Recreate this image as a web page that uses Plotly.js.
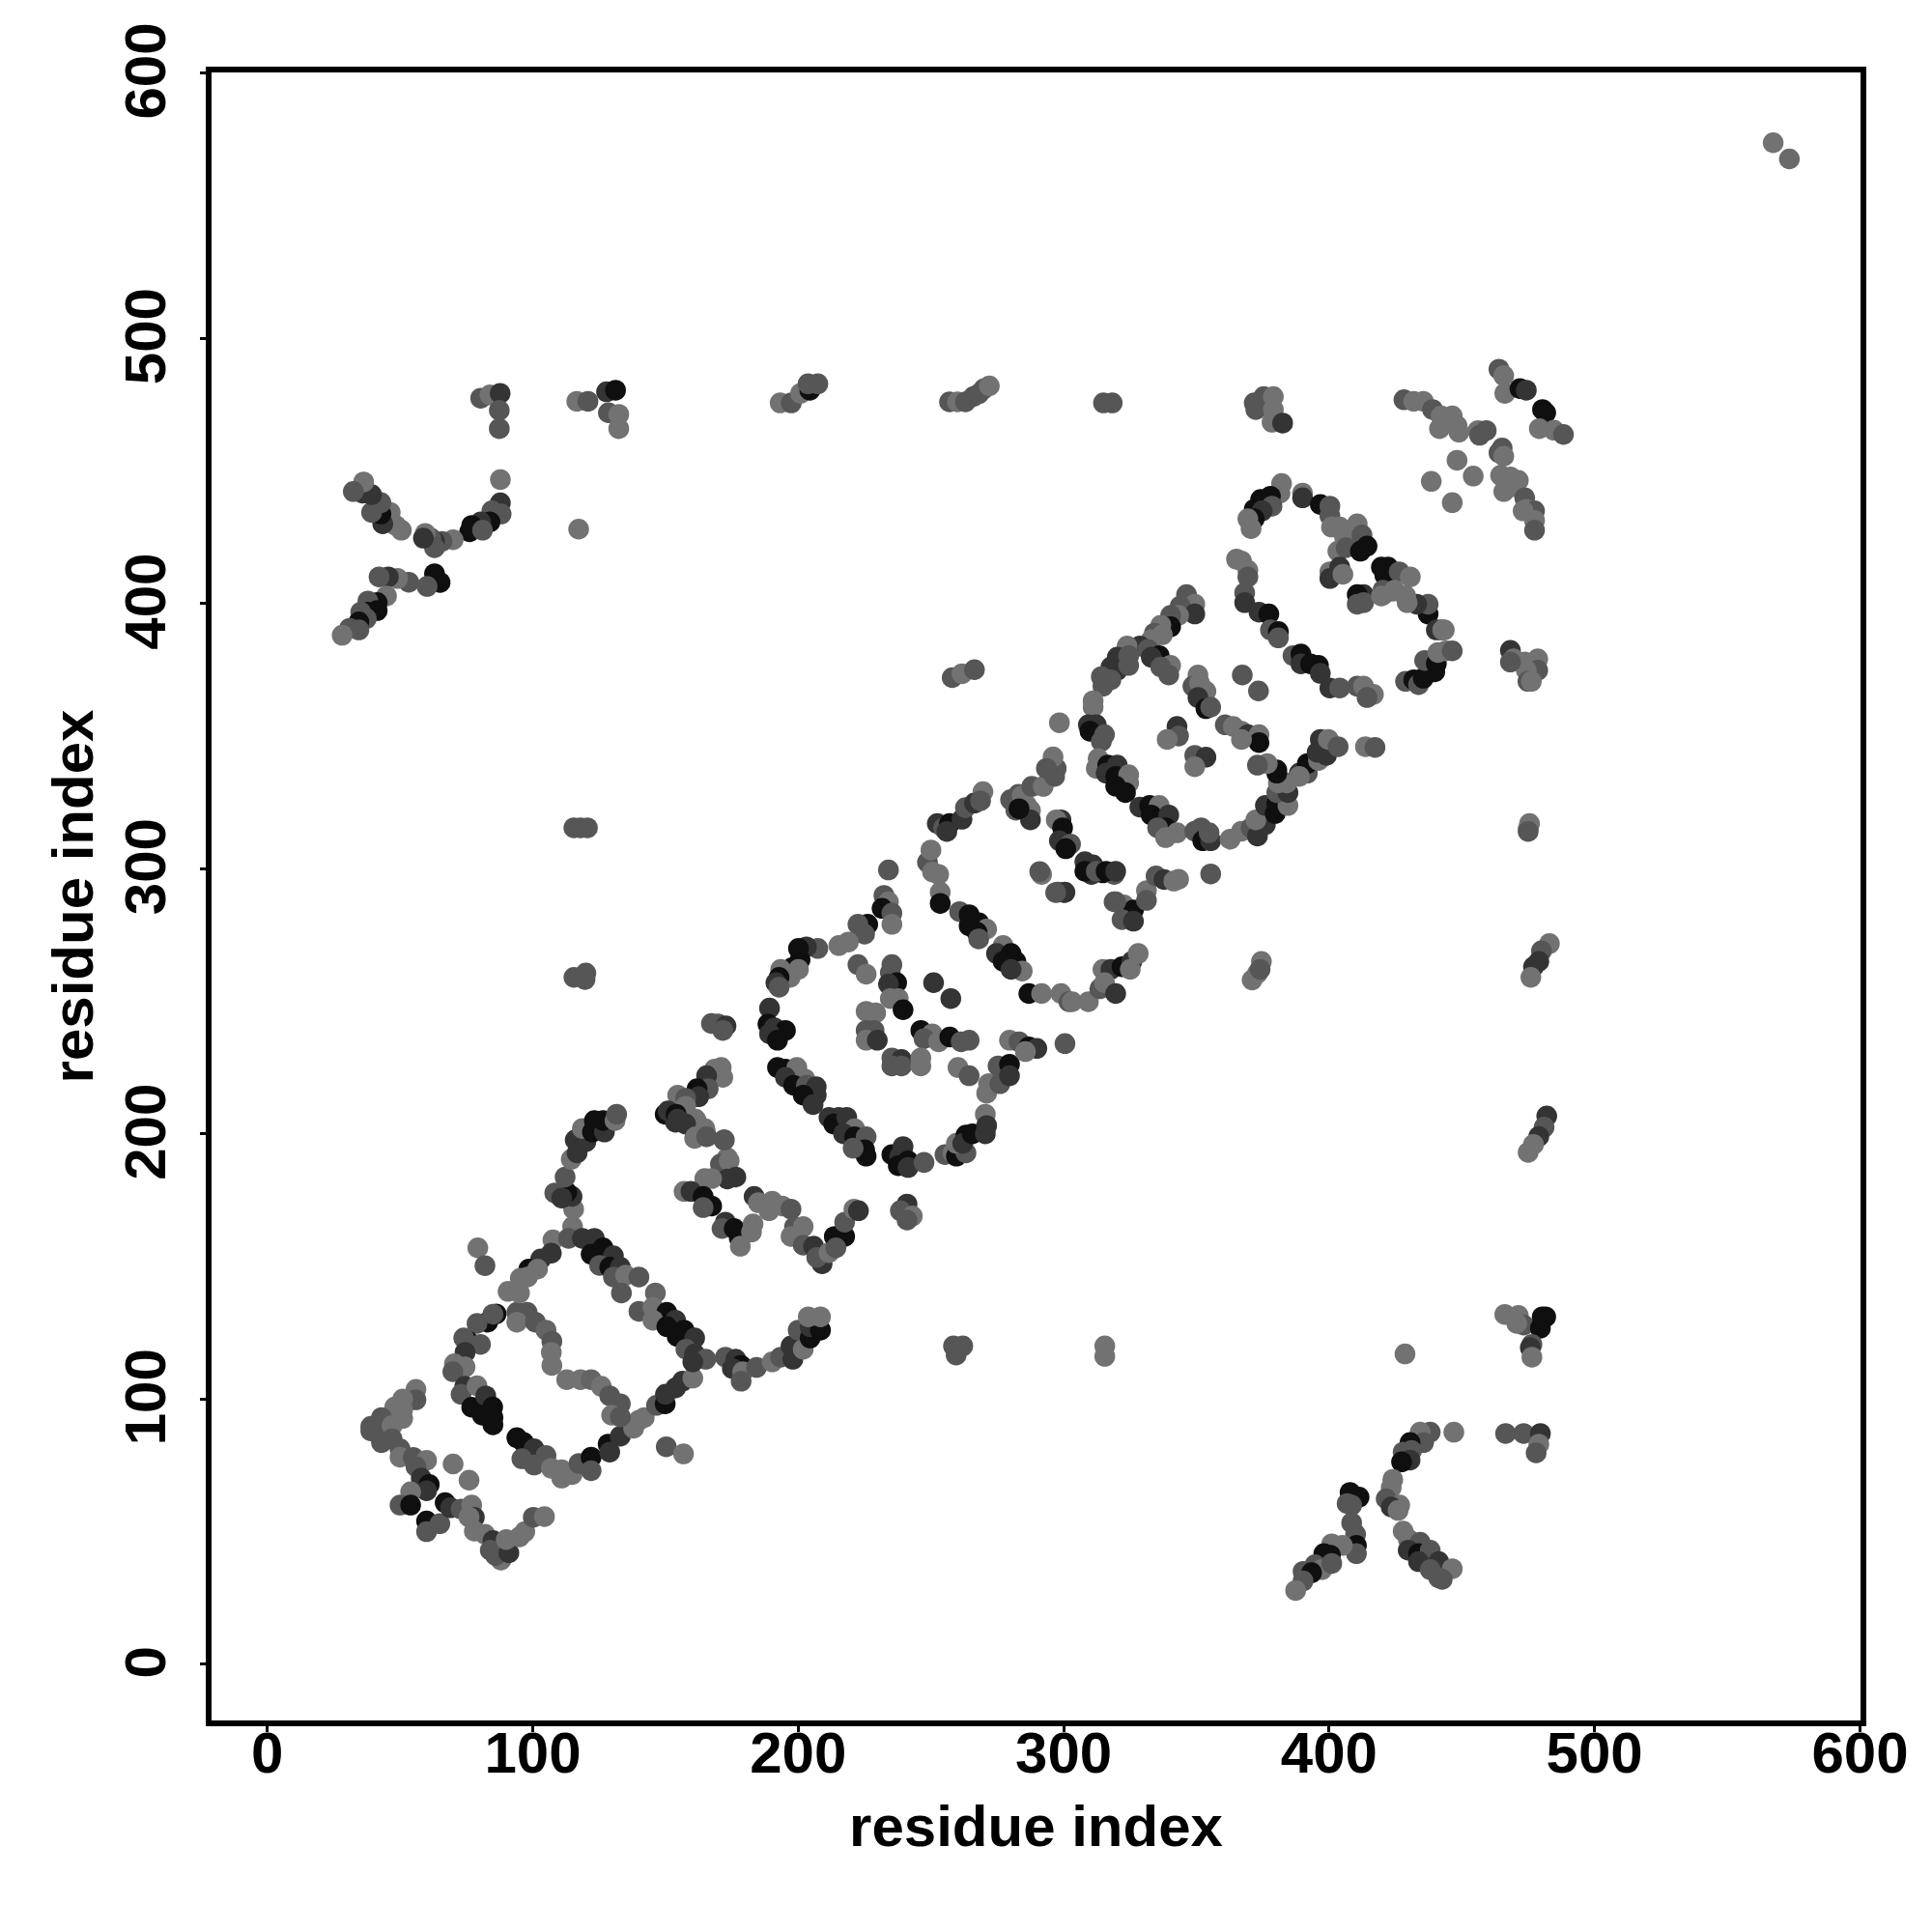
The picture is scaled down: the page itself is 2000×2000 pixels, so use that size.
<!DOCTYPE html>
<html><head><meta charset="utf-8">
<script src="https://cdn.plot.ly/plotly-3.0.0.min.js"></script>
<style>html,body{margin:0;padding:0;background:#fff}</style></head>
<body><div id="chart" style="width:2000px;height:2000px"></div>
<script>
// each contact: [residue i, residue j, strength 1 (weak) .. 4 (strong)]
const helixA = [[56,103.6,1],[56,99.7,2],[51,100,1],[48,97,1],[51,96,1],[51,92.7,1],[43,93,2],[39,89.7,2],[44,89,2],[47,90,1],[39,88,2],[43,83.6,2],[47,85,2],[50,81.2,2],[50,78.1,1],[55,78,2],[60,76.9,1],[56,74.5,2],[58,70.2,3],[61,67.8,4],[60,65.4,3],[70,75.5,1],[76,69.4,1],[54,65,1],[50,60,2],[54,60,4],[60,54,4],[60,50,2],[65,53,2],[67,60.9,4],[69,59,3],[73,58.5,2],[77,60,1],[78,55.4,3],[76,55.5,1],[78,50.2,1],[82,49,1],[85,46.6,3],[84,43,2],[88,39.3,1],[86,41,2],[91,42,3],[90,47,1],[95,48,1],[97,50,1],[100.2,55.4,2],[104.4,55.7,1]];
const boxA = [[86.2,132.1,4],[83,129,4],[85,132,2],[79,128.5,2],[75.7,121.8,4],[80.3,120.6,2],[74,123,2],[74.5,117.6,3],[70.5,113.3,1],[74.5,112.1,1],[69.9,110.3,2],[74.4,104.8,3],[73,101.8,2],[79,105,1],[77,96.9,4],[82.3,101.2,3],[84.9,97,4],[81,93.9,4],[85,93,4],[85,90.3,4],[94,85.4,4],[96.6,83.6,4],[100.5,81.2,3],[95.9,77.5,2],[100.5,75.1,2],[105,78.7,2],[107,73.9,1],[110.9,73.3,1],[114.8,71.5,1],[110.9,70.2,1],[117.4,75.7,2],[122,78.1,4],[122,73,2],[128.4,83,4],[129,80,3],[133,86,3],[140,92,1],[138,89,1],[142,93,1],[146.6,97.6,2],[149.9,98.2,4],[150,101.8,3],[153.8,104.2,3],[156.4,106.7,3],[160.3,107.9,1],
[94,132.7,2],[97.9,132.7,2],[94,129,1],[101,129,2],[105,126,1.5],[107.2,121.8,2],[107,117.6,1],[107.2,112.7,1],[112.8,107.3,1],[118,107.3,1],[122,107.3,1.5],[125.8,104.8,1],[129,101.2,2],[133,98.2,2],[129.7,93.9,1],[133,93.3,2],
[107.6,160,1],[107,155,3],[103,152.8,3],[98.5,149,4],[101.8,149,1],[95.3,145.5,1],[98,146,1],[90.7,140.6,1],[95,140,1],
[115,165,1],[113.5,160.6,2],[118.7,160.6,3],[123.2,160.6,3],[122,154.6,4],[126.5,157,4],[130.4,154,3],[125.2,150.4,2],[129,149.7,4],[133,149.7,3],[130.4,146,2],[135,146.7,1],[140,146,2],[133.4,140,2],
[146.2,140,1.5],[140,133.1,2],[145.3,134.6,1],[150.5,132.7,4],[145.3,129.7,1],[153.8,129.7,3],[150.5,127.3,4],[157,126,4],[154.4,123.6,4],[161,123,3],[157.7,118.8,2],[161,117,3],[165.2,115,2],[160.3,114,3],
[79.3,157,1],[82,150.3,2],[150.3,82,2],[156.8,79.3,1]];
const armB = [[172.6,115.8,2],[176.5,115,3],[178.5,112.7,4],[175.2,111.5,3],[179.1,110.3,1],[178.5,106.7,2],[184.3,111.9,2],[190.2,114,1],[193.4,115.8,2],[198,115,3],[197.3,120,3],[201.9,118.8,1],[200,126,2],[204.5,123,4],[204.5,127.3,3],[208.4,126,4],[203.8,131,1],[208.4,131,1],
[115.4,171.6,1],[114.8,176.4,3],[112.8,178,4],[108.3,177.7,2],[110.9,175.8,3],[112.2,183.7,2],[114.5,190.4,1],[116.7,192.8,3],[116,197.7,3],[120,197,3],[118.7,202,1],[122.5,200.7,4],[123.2,205,4],[127,200.7,3],[126.5,205,4],[131,205,1],[131.6,207.4,2],
[149.9,207.4,4],[153.8,204.4,3],[157.7,205,2],[161.6,205,1],[164.8,202,1],[161,198.3,1],[165.5,199,2],[172,197.7,2],[173.3,191,1],[170.7,188.6,2],[174,189.8,1],[176.5,183.7,3],[173.3,183,3],
[164.8,183.1,1],[167.4,183.1,1],[157,178.3,1],[159.6,178.3,3],[164.2,176.4,4],[167.4,172.8,4],[164.2,172.2,2],[172.6,166.7,3],[171.3,164.3,2],[175.9,164.3,4],[177.8,160.7,4],[178.2,157.6,1],[183,166,1],[182.4,163,1],
[183.4,176.4,3],[185,174,1],[190.2,174.6,1],[194,172.8,1],[189,171,1],[197.3,171.6,2],[198.6,164.9,2],[201.9,165,1],[197.3,161.3,1],[201.9,158,2],[205.8,157.6,3],[209,151,3],[207,153.4,2],[211.6,155.2,1],[213.6,161.3,4],[217.5,161.3,4],[214.2,157,2],[217.5,166.7,2],[221,171.6,1],[222.7,171,3],
[241,173.5,3],[238.5,171,2],[243,169,1],[241,167.5,2]];
const boxB = [[171.6,221.3,1],[171,225,1],[168.5,224.4,1],[165.5,221.9,3],[166.1,217,2],[161.9,217,4],[162.5,214,3],[154.6,214.6,1],[157.6,213.4,2],[157.6,210.4,1],[151,208.6,3],[154,207.4,4],[154.6,205.5,3],[161.3,205.5,1],[157.6,203.7,3],[164.9,201.3,1],[161.3,198.9,1],[165.5,198.9,2],[172.2,197.7,2],
[207.4,269.9,2],[203.1,270.5,3],[200.1,269.9,4],[200.7,265.6,4],[197.7,262.6,4],[200.1,262,1],[193.4,262,1],[197,259,1],[192.8,259,4],[191.6,257,3],[192.8,255.3,2],[189.2,247.4,3],[188.6,241.4,4],[191,240,3],[195.2,239,4],[189.2,237.7,3],[192.2,235.3,4],
[169.8,241.4,2],[167.3,241.6,2],[172.8,240.7,3],[171.6,239,2],
[192.2,225,4],[195.2,224.4,4],[199.5,225,1],[195.2,221.3,3],[202.5,220.7,1],[198.3,218.3,4],[203.1,218.3,2],[206.8,217.7,3],[206.8,214.6,3],[201.9,214.6,4],[205.6,211,3],
[211.6,206.2,3],[215.3,206.2,3],[213.4,203.7,4],[218.3,206.2,3],[221.3,201.9,1],[217.1,200,3],[221.3,198.9,4],[225.6,198.9,2],[225,194,4],[225.6,191.6,4],[220.7,194.6,2],
[235.3,192.2,4],[239.5,195.2,3],[238.3,191.6,3],[237.7,188,4],[241.4,189.8,4],[241.4,187.3,3],[247.4,189.2,2],
[255.3,192.2,2],[258.3,192.8,1],[259.6,191.6,4],[263.2,192.8,2],[259.6,196.4,1],[263.2,199.5,4],[262,196.4,3],[265.6,200,4],[270.5,207.4,1],[271,203.1,3],[270.5,200,3],
[271,215.3,1],[271.7,218.9,1],[276,218.9,2],[275.3,225.6,2],[279.6,226.2,4],[279.6,221.9,3],
[235.3,263.8,2],[234.7,260.8,2],[237.1,257,4],[234,256.5,3],[237.7,251,1],[234.7,251,1],[239.5,246.8,4],[229.2,245.6,1],[225.6,246.2,1],[222.5,263.8,2],[225.6,260.2,1],[251,257,3],[257.5,251,3],
[246.2,239,4],[250.5,237.7,1],[247.4,235.9,2],[252.9,234.7,1],[257.1,236.5,4],[261.4,234.7,2],[264.4,235.3,2],
[225.6,239,2],[228.6,239,2],[225.6,235.3,1],[229.8,235.3,3],[235.3,228.6,2],[238.9,228,3],[235.3,225.6,2],[238.9,225.6,2],[246.2,228.6,1],[246.2,225.6,1],[260.2,225,1],[264.4,221.9,2],
[279.6,235.3,1],[283.2,234.7,2],[286.9,232.8,4],[289.9,232.2,3],[285.6,231,1],[300.5,234,2],
[253.5,291.1,1],[253.5,286.9,4],[260.8,283.8,2],[264.4,282.6,4],[268,279.6,4],[264.4,278.4,4],[271,277.2,1],[267.4,276,4],[268,273.5,2],
[277.2,271,1],[274.7,268,3],[280.2,268,4],[277.2,265,4],[282,265,4],[284.4,261.4,1],[280.2,262,3],
[286.9,252.9,4],[291.7,252.9,1],[299,252.9,1],[302,249.8,2],[303.2,249.8,1],[309.3,249.8,1],
[313.6,254.7,2],[314.8,262,1],[317.8,262,3],[315.4,257,1],[319.6,252.9,3],[322,263,4],[325.7,265,3],[328.1,268,1],[325.1,262,1],
[232.3,289.9,2],[234,287.5,1],[231.6,285,4],[235.3,283.2,2],[235.3,279,1],[226.2,279,4],[222.5,279,2],[225,275.3,2],[218.9,272.3,1],[215.3,271,1],
[291.7,297.8,1],[297.8,291.1,2],[300.5,291.1,3],[319,287.5,2],[322.7,286.3,1],[326.3,284.4,4],[322,280.8,2],[326.3,280.2,3],
[310.5,297.8,3],[314.8,298.4,4],[319,297.8,2],[234,299.5,2],[252.9,297.8,1],
[252.4,317,3],[254.8,315.4,2],[257,317,4],[261.7,318.6,3],[263,323,2],[266.4,324.7,3],[269.6,329,1],[256,314,3],[268.7,325.6,2],[248.7,302.4,2],[250.6,298.7,1],[250,307,1],
[280,326,2],[282,322,2],[286,324,1],[283,328,2],[287,321,1]];
const boxC = [[346.3,403.3,2],[349.4,399.7,1],[343.9,399,2],[349.4,396,3],[343.3,395.5,1],[340.3,395.5,2],[340.3,391.2,4],[336.6,391.8,1],[334.2,388.8,2],[337.2,388.2,1],[333,386.3,1],[328.7,383.9,3],[323.9,383.9,1],[320.2,379.7,3],[324.5,380.3,2],[317.8,376,3],[320.2,374.8,3],[314.2,372.4,2],[317.8,371.2,2],[324.5,376.6,2],[314.8,368.8,2],[311.1,363.3,1],[311.1,360.9,1],
[331.8,382.7,2],[336,380.3,4],[333,379.7,3],[340.3,376.6,1],[336.6,376,2],[339.6,373,2],
[350.6,373,1],[348.7,368.8,2],[351.2,370,1],[353.6,366.9,1],[350.6,364.5,3],[353.6,360.3,4],[355.4,360.9,2],
[360.9,354.2,2],[363.9,353.6,1],[367,351.8,1],[369.4,350.5,3],[373.6,350.5,1],[373.6,347.5,4],[367,348.7,1],
[298.4,355,1],[309.3,354.2,3],[312.3,354.2,3],[309.9,351.8,4],[315.4,350.5,2],[314.2,348,2],
[313,341.5,1],[312.3,337.8,1],[316.6,339,4],[320.2,339,3],[316,336,3],[319.6,334.8,4],[324.5,335.4,1],[324.5,332.3,1],[319.6,331.1,4],[323.3,328.7,4],
[342.7,353.6,3],[343.3,350,2],[339,348.7,1],[349.4,342.7,2],[353.6,342,3],[349.4,338.4,1],[367.3,373,2],[373.4,367,2],
[328.7,323.2,3],[332.4,323.8,4],[336,323.8,1],[333,320.2,4],[336,318.4,4],[339.6,320.2,3],[338.4,315.4,4],[335.4,315.4,2],[342.7,313.5,1],[338.4,311.7,1],
[349.4,314.1,2],[351.8,315.4,2],[352.4,310.5,4],[355.4,310.5,3],[354.8,313.5,2],
[362.7,311.1,1],[367,314.1,1],[370.6,315.4,2],[373,312.3,3],[376,316.6,3],[372.4,318.4,1],[376,323.8,3],[379.7,320.8,4],[380.3,324.5,4],[384.5,323.8,1],[380.3,328.7,2],[384.5,328.7,3],[380.9,332.3,1],[384,332.3,1],[380.3,336,4],[380.3,337.2,4],[376.7,339.6,1],[373,339,2],
[388.8,336,3],[391.8,336,2],[391.8,339.6,4],[388.8,334.8,1],[396,340.8,1],[395.5,343.9,3],[399,342.7,3],[396.7,348.7,3],[399.7,348.7,1],[403.4,346,2],[413.7,346,1],[417.3,345.7,2],
[368.2,404,2],[368.2,400.3,3],[373.6,396.7,3],[377.3,396,4],[377.9,390,2],[380.9,389.4,4],[380.9,387,2],
[386.4,380.3,2],[389.4,380.9,4],[389.4,377.2,3],[396,376.6,4],[393,377.2,4],[396.7,373.6,3],[400.3,368.1,3],[404,368.1,2],[410.6,368.8,2],[413,368.8,1],[416.7,365.7,1],[414.3,364.5,2],
[428.8,370.6,2],[431.9,371.2,4],[433.7,369.4,2],[435.5,371.8,4],[439.8,374.2,4],[436,378.5,2],[440.4,377.3,4],[441,381.5,1],[444,382.1,1],[446.4,382.1,2],
[442.2,390,2],[443.4,390,1],[437.3,396,4],[437.3,399.7,2],[433,399.7,3],[428.8,402.7,1],[424,404.6,1],[420.3,403.3,2],[413,403.3,3],[410.6,403.3,4],[413,400.3,2],[410.6,399.7,2],
[291,298.9,2],[300.2,291,3],[297,291,2],[319.6,287.5,2],[331.2,291.7,1],[331.2,288,2],[334.8,297.2,2],[337.8,295.9,3],[341.5,295.3,1],[343.3,296,1],[355.4,298,2],
[299,318.4,3],[297.2,318.4,1],[299.6,315.4,4],[298.4,310.5,3],[302.6,309.3,2],[300.8,307.5,4],[308,302.6,3],[311,301.4,3],[308,299,4],[312.3,299,2],[316,299,4],[319.6,299,3],
[287.5,322,1],[284.4,327.5,1],[288,331,2],[292.3,331,1],[296.6,334.8,2],[297.2,337.8,2],[296,342.1,1],[293.5,337.8,2],[287.5,318.4,3],[283.2,322.6,4]];
const loopD = [[382.1,445.2,1],[381.5,441.6,1],[377.9,440.4,4],[374.2,439.2,4],[378.5,436.7,2],[371.8,435.5,4],[374.8,434.9,3],[371.8,431.9,4],[369.4,431.9,1],[370.6,428.2,1],
[390,441.6,1],[390,439.8,3],[396.7,437.3,4],[400.3,436.7,2],[400.3,433.1,2],[400.9,428.8,1],[404,428.8,1],[405.8,425.2,1],[410.6,430,1],[412.4,425.8,2],[403.3,419.7,1],[406.4,421,2],[414.3,421.6,4],[411.8,419.7,4],
[400.3,411.9,1],[404,413.7,3],[400.3,409.4,3],[405.2,411,1],
[419.7,413.7,4],[422.2,413.7,4],[421,410.6,4],[426.4,411.9,2],[430.6,410,1],[420.3,405,2],[424.6,405,1],[419.7,402.8,1],[428.8,402.8,1],[429.4,400.3,1],[440.4,390,3],[442.8,390,1],
[365.1,416.7,1],[367,416,1],[369.4,412.5,1],[369.4,410,2]];
const offUpper = [[371.8,475.6,2],[375.4,478,2],[379,478,1],[372.4,473.1,2],[379,473.1,1],[378.5,468.3,1],[382.5,468,3],
[428.2,476.8,2],[431.9,476.2,1],[435.5,476.2,1],[439,473.1,2],[442.2,470.7,1],[446.4,470.7,1],[441.6,465.9,1],[448.2,467,1],[448.9,464.6,1],[456.1,465.2,1],[459.2,465.2,2],[456.7,463.4,2],
[465.2,458.6,2],[464,456.8,2],[465.8,455.5,1],[464.6,448.3,1],[468.3,447.7,1],[465.8,442.2,1],[471.3,446.4,1],[469.5,444,1],[473.7,439.8,2],[474.3,435.5,1],[477.4,434.9,2],[477.4,431.3,1],[477.4,427.6,2],[473.1,434.9,1],
[448.2,454,1],[454.3,448,1],[438.5,446,1],[446.4,438,1],
[464,488.3,2],[465.8,485.9,1],[466.2,479.2,1],[471.9,481,4],[474.3,480.4,3],[480.4,473.1,4],[481.6,471.9,4],[479.2,465.9,1],[484.7,465.3,1],[488.3,463.7,2],
[468.3,382.3,3],[469.5,379.1,1],[478.6,379.1,1],[473.7,377.9,1],[478.6,374.8,2],[474.3,374.8,1],[474.9,370.6,2],[476.2,370.6,1],[468.3,377.9,2],
[80.4,477.4,2],[83.9,478.6,1],[87.7,479.2,3],[87.4,472.8,2],[87.4,465.9,2],
[116.6,476.2,1],[120.8,476.2,2],[127.8,479.8,3],[131.2,480.4,4],[128.5,471.9,2],[132.4,471.3,1],[132.4,465.9,1],
[193.2,475.6,1],[197.4,475.6,2],[200.9,479.2,1],[204.4,480.4,4],[203.7,482.8,2],[207.4,482.8,2],
[87.8,446.7,1],[87.8,437.9,3],[84.6,434.9,2],[88.1,433.7,2],[83.9,430.7,4],[80.4,430.7,3],[77,429.4,4],[76.2,427,4],[81.1,427.6,2],
[70,424,1],[65.8,423.4,2],[63,423.4,3],[61.6,424.6,2],[59.5,426.4,1],[63,421,2],[58.8,424.6,3],
[50.5,427.6,1],[48.4,429.4,1],[46.3,434.3,1],[43.5,430,3],[42.8,433.7,4],[42.8,438,2],[39.3,434.3,2],[39.3,441,3],[35.9,441.6,3],[36.3,445.8,1],[32.4,442.2,2],
[53.3,408,2],[49.1,409.4,1],[45.6,410,3],[42.1,410,2],[63,411.2,4],[65.1,407.9,4],[60.2,406.4,2],[44.9,402.8,1],[41.4,400.3,4],[37.9,400.9,2],[41.4,397.3,4],[37.9,396.7,4],[35.2,396.7,2],[37.3,394.3,2],[34.5,393,4],[34.5,390,2],[31,390.6,2],[28.2,388,1]];
const isolated = [[117.3,428,1],[567.3,573.7,1],[573.4,567.6,1.3],
[475.5,317,1],[475,315,1],[475,314,2],[483,271.7,1],[480,269,2],[479,265,3],[477,263,3],[476,259,1],[482,206.7,3],[481,202.5,2],[479,199,3],[477,196,1],[475,193,1],
[120,260.6,2],[115.5,259,2],[119.7,258.2,2],[115.5,315.4,2],[118,315.4,2],[120.6,315.4,2],
[258.5,120,2],[262,120,2],[259.5,116.6,2],[315,475.6,2],[318.3,475.6,2],
[257,476,2],[260,476,1],[263,476,2],[266,478,2],[268,479,2],[270,481,2],[272,482,1],
[371,258,1],[373,260.5,1],[374.5,265,1],[374,262,2],[258,372,2],[261.7,373.5,1],[266.4,375,2]];
const offLower = [[315.5,120,1],[315.5,116.1,1],[428.6,117,1],
[466.2,131.9,1],[471.3,131.5,1],[473.3,127.9,2],[470.7,128.5,1],[480.3,131,4],[481.6,131,4],[479.6,126.7,4],[476.4,120.6,2],[475.8,119.4,3],[476.4,115.8,1],
[466.5,87,2],[473.3,87,2],[479.6,87,3],[479,83,1],[478,79.7,2],
[447,87.5,1],[438.1,87.5,2],[434.3,87.5,1],[435.6,83.6,2],[430.5,83.6,4],[431.1,80.6,2],[427.9,80,2],[430.5,77,3],[427.3,76.3,4],
[424,69.7,1],[423.4,66.6,1],[421.5,62.4,2],[426.6,60,1],[423.4,59.3,3],[426,58,1],
[407.9,64.8,4],[411.3,63,4],[406.8,60.6,2],[408.5,60,2],
[408.5,53.3,2],[410,49,2],[410.3,44.8,4],[410.3,41.7,2],[405,44.8,1],[401,45.4,1],[398,41.7,4],[400.5,41.1,4],[394.7,37.5,2],[397.3,35.7,1],[401,38,2],[390.2,35,2],[393.4,34.5,4],[390.2,31.4,2],[387.4,27.8,1],
[427.9,50.2,1],[429.8,47.2,1],[434.3,46,2],[429.8,43,3],[433.7,41.7,4],[438.1,43,2],[433.7,38.7,3],[441.3,38.7,3],[438.1,35.7,2],[446.4,36,1],[442.6,32,2],[441.3,32.6,2]];

const tickValues = [0,100,200,300,400,500,600];
const axisName = "residue index";

const contacts = [].concat(helixA, boxA, armB, boxB, boxC, loopD, offUpper, isolated, offLower);
const font = {family:'"Liberation Sans", Arial, sans-serif', color:'#000', size:60};

function axis(extra){
  return Object.assign({
    tickmode:'array', tickvals:tickValues, ticktext:tickValues.map(v=>'<b>'+v+'</b>'),
    tickfont:font, ticks:'outside', ticklen:6, tickwidth:3, tickcolor:'#000',
    showgrid:false, zeroline:false, showline:true, mirror:true, linewidth:6, linecolor:'#000'
  }, extra);
}
Plotly.newPlot('chart',[{
  type:'scatter', mode:'markers', cliponaxis:false,
  x:contacts.map(c=>c[0]), y:contacts.map(c=>c[1]),
  marker:{size:21.5, color:contacts.map(c=>c[2]), cmin:1, cmax:4, showscale:false,
    colorscale:[[0,'#727272'],[0.33,'#565656'],[0.67,'#343434'],[1,'#0f0f0f']], line:{width:0}}
}],{
  width:2000,height:2000,autosize:false,showlegend:false,
  paper_bgcolor:'#fff',plot_bgcolor:'#fff',
  margin:{l:219,r:74,t:74.5,b:219,pad:0},
  xaxis:axis({range:[-21,600.2],ticklabelstandoff:-30,title:{text:'<b>'+axisName+'</b>',font:font,standoff:24}}),
  yaxis:axis({range:[-21.2,600.2],tickangle:-90,ticklabelstandoff:12,title:{text:'<b>'+axisName+'</b>',font:font,standoff:3}})
},{displayModeBar:false,staticPlot:true}).then(function(){
  // rotated y tick labels sit centred on their ticks in the reference
  document.querySelectorAll('#chart .ytick text').forEach(function(t){
    t.setAttribute('transform','translate(0,7) '+(t.getAttribute('transform')||''));
  });
});
</script></body></html>
